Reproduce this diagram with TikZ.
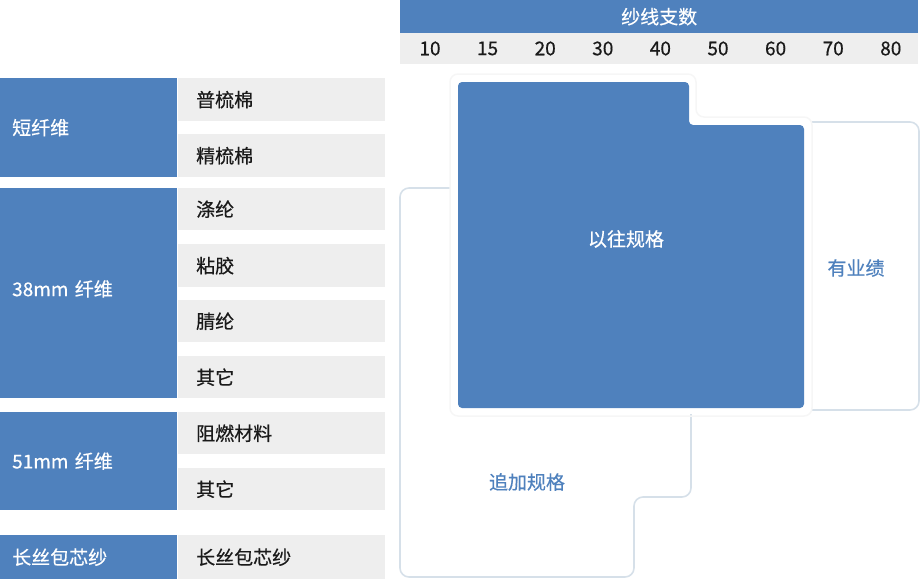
\documentclass[tikz,border=0pt]{standalone}
\usepackage{fontspec}
\setmainfont{Noto Sans CJK SC}[FakeBold=0.5,AutoFakeBold=0.5]
\usetikzlibrary{positioning}
\definecolor{steel}{HTML}{4F81BD}
\definecolor{cellgrey}{HTML}{EEEEEE}
\definecolor{frame}{HTML}{D6E0E9}
\definecolor{halo}{HTML}{F6F6F6}
\definecolor{inktext}{HTML}{1A1A1A}
\tikzset{groupbox/.style={fill=steel,text=white,anchor=north west,minimum width=177pt,text width=153pt,inner xsep=12pt,inner ysep=0pt,align=left,font=\fontsize{19}{22}\selectfont},cellbox/.style={fill=cellgrey,text=inktext,anchor=north west,minimum width=207pt,text width=171pt,inner xsep=18pt,inner ysep=0pt,minimum height=43pt,align=left,font=\fontsize{19}{22}\selectfont},outline/.style={draw=frame,line width=1.6pt,rounded corners=9pt},tag/.style={font=\fontsize{19}{22}\selectfont,inner sep=1pt}}

\begin{document}
\begin{tikzpicture}[x=1pt,y=-1pt]
\useasboundingbox (0,0) rectangle (922,579);
% header
\node[fill=steel,text=white,anchor=north west,minimum width=518pt,minimum height=33pt,inner sep=0pt,font=\fontsize{19}{22}\selectfont] (header) at (400,0) {纱线支数};
\node[fill=cellgrey,anchor=north west,minimum width=518pt,minimum height=31pt,inner sep=0pt] (countrow) at (400,33) {};
\foreach \c [count=\i from 0] in {10,15,20,30,40,50,60,70,80}
  \node[tag,text=inktext] (n\c) at ({430+57.6*\i},48.5) {\c};
% fibre groups
\node[groupbox,minimum height=99pt] (staple) at (0,78) {短纤维};
\node[groupbox,minimum height=210pt] (f38) at (0,188) {\raisebox{10pt}{38mm 纤维}};
\node[groupbox,minimum height=98pt] (f51) at (0,412) {51mm 纤维};
\node[groupbox,minimum height=44pt] (core) at (0,535) {长丝包芯纱};
\node[cellbox] (carded) at (178,78) {普梳棉};
\node[cellbox] (combed) at (178,134) {精梳棉};
\node[cellbox,minimum height=42pt] (poly) at (178,188) {涤纶};
\node[cellbox] (visc) at (178,244) {粘胶};
\node[cellbox,minimum height=42pt] (acryl) at (178,300) {腈纶};
\node[cellbox,minimum height=42pt] (other38) at (178,356) {其它};
\node[cellbox,minimum height=42pt] (flame) at (178,412) {阻燃材料};
\node[cellbox,minimum height=42pt] (other51) at (178,468) {其它};
\node[cellbox,minimum height=44pt] (corecell) at (178,535) {长丝包芯纱};
% spec areas
\draw[outline] (811,122) -- (919,122) -- (919,410) -- (811,410);
\draw[outline] (450,188) -- (400,188) -- (400,577) -- (634,577) -- (634,497) -- (691,497) -- (691,414);
\draw[halo,line width=1.5pt,rounded corners=8pt] (450,74) -- (696,74) -- (696,117) -- (812,117) -- (812,416) -- (450,416) -- cycle;
\fill[steel,rounded corners=4pt] (458,82) -- (689,82) -- (689,125) -- (804,125) -- (804,408) -- (458,408) -- cycle;
\node[tag,text=white] (past) at (626,239) {以往规格};
\node[tag,text=steel] (track) at (856,268) {有业绩};
\node[tag,text=steel] (extra) at (527,482) {追加规格};
\end{tikzpicture}
\end{document}
